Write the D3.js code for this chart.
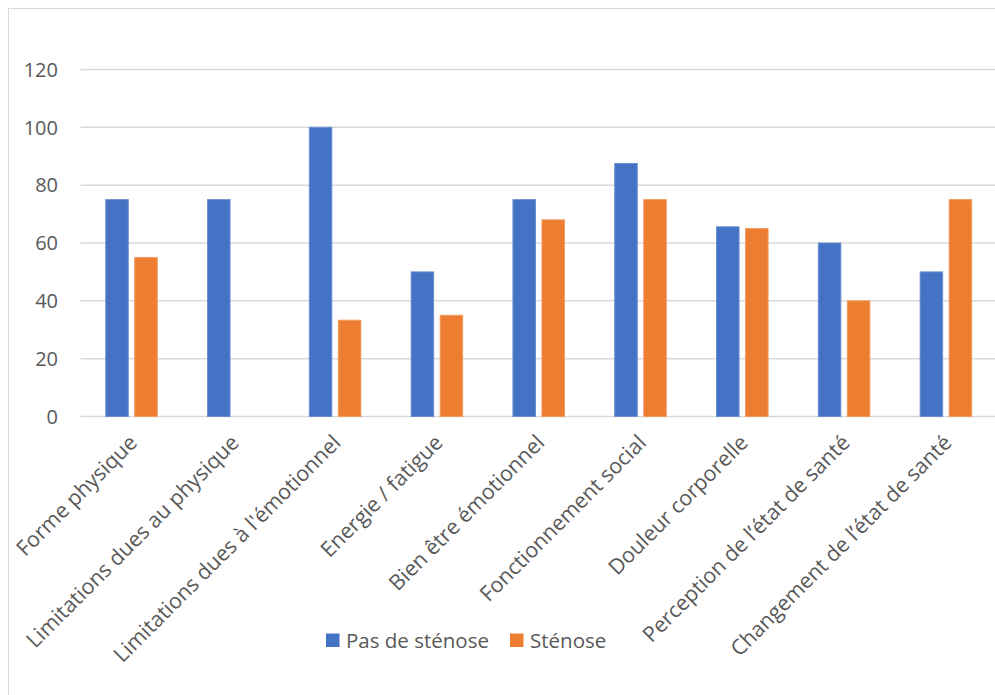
<!DOCTYPE html>
<html><head><meta charset="utf-8">
<script src="https://cdn.jsdelivr.net/npm/d3@7"></script>
<style>html,body{margin:0;padding:0;background:#fff;overflow:hidden}</style>
</head><body>
<svg id="c" width="995" height="695"></svg>
<script>
const categories = ["Forme physique","Limitations dues au physique","Limitations dues à l'émotionnel","Energie / fatigue","Bien être émotionnel","Fonctionnement social","Douleur corporelle","Perception de l’état de santé","Changement de l’état de santé"];
const seriesNames = ["Pas de sténose","Sténose"];
const pasDeStenose = [75,75,100,50,75,87.5,65.6,60,50];
const stenose = [55,0,33.3,35,68,75,65,40,75];
const yTicks = [0,20,40,60,80,100,120];
const colors = ["#4472C4","#ED7D31"];
const strokes = ["#6a8fd0","#f29a5e"];

(function(){
const svg = d3.select("#c");
const font = "'Open Sans', sans-serif";
const textColor = "#595959";

svg.append("rect").attr("x",8.5).attr("y",8.5).attr("width",1000).attr("height",700)
  .attr("fill","#fff").attr("stroke","#d9d9d9").attr("stroke-width",1);

const pL = 80.6, pR = 996.8, pT = 69.5, pB = 416.5;
const x = d3.scaleBand().domain(categories).range([pL,pR]).paddingInner(0).paddingOuter(0);
const y = d3.scaleLinear().domain([0,120]).range([pB,pT]);

svg.append("g").selectAll("line").data(yTicks).join("line")
  .attr("x1",pL).attr("x2",995).attr("y1",d=>y(d)).attr("y2",d=>y(d))
  .attr("stroke","#d9d9d9").attr("stroke-width",1.5);

svg.append("g").selectAll("text").data(yTicks).join("text")
  .attr("x",58).attr("y",d=>y(d)).attr("dy","0.36em").attr("text-anchor","end")
  .attr("font-family",font).attr("font-size",20).attr("fill",textColor).text(d=>d);

const bw = x.bandwidth();
const barW = bw*0.221, gap = bw*0.064;
const series = [pasDeStenose, stenose];
series.forEach((vals,si)=>{
  svg.append("g").selectAll("rect").data(vals).join("rect")
    .attr("x",(d,i)=>x(categories[i]) + bw/2 - (barW + gap/2) + si*(barW+gap))
    .attr("width",barW)
    .attr("y",d=>y(d))
    .attr("height",d=>y(0)-y(d))
    .attr("fill",colors[si]).attr("stroke",strokes[si]).attr("stroke-width",d=>d>0?1:0);
});

svg.append("g").selectAll("text").data(categories).join("text")
  .attr("transform",d=>`translate(${x(d)+bw/2+7},${444}) rotate(-45)`)
  .attr("text-anchor","end")
  .attr("font-family",font).attr("font-size",21.3).attr("fill",textColor).text(d=>d);

const legend = svg.append("g");
const legItems = [{x:326,name:seriesNames[0],c:colors[0]},{x:510,name:seriesNames[1],c:colors[1]}];
legItems.forEach(it=>{
  legend.append("rect").attr("x",it.x).attr("y",633.5).attr("width",13.5).attr("height",13.5).attr("fill",it.c);
  legend.append("text").attr("x",it.x+20).attr("y",648).attr("font-family",font).attr("font-size",20.5)
    .attr("fill",textColor).text(it.name);
});
})();
</script>
</body></html>
